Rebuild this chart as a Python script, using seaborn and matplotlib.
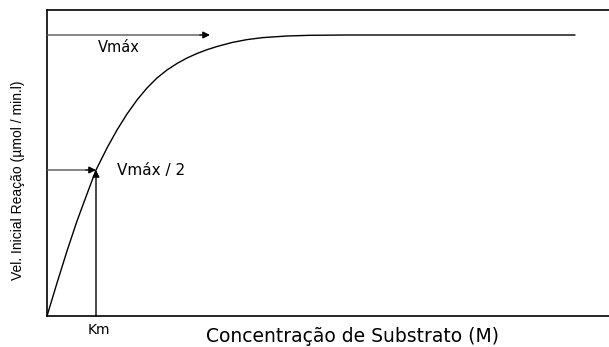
import matplotlib
matplotlib.use("Agg")
import matplotlib.pyplot as plt
import seaborn as sns
import pandas as pd

# curve (substrate concentration vs. initial velocity)
substrate = [0, 10, 20, 30, 40, 49, 60, 70, 80, 90, 100, 110, 120, 130, 140, 150,
             160, 170, 185, 200, 216, 240, 263, 300, 400, 528]
velocity = [0, 33, 65, 95, 122, 146, 168, 186, 202, 216, 228, 238, 246, 252.5, 258, 262.5,
            266.3, 269.5, 273.5, 276.4, 278.4, 280, 280.7, 281, 281, 281]
vmax = 281
half_vmax = 146
km = 49
vmax_arrow_end = 163

sns.set_style("white")
plt.rcParams['font.family'] = ['DejaVu Sans']
plt.rcParams['text.color'] = 'black'
plt.rcParams['xtick.color'] = 'black'

fig = plt.figure(figsize=(6.09, 3.47), dpi=100)
ax = fig.add_axes([47 / 609, 31 / 347, 562 / 609, 306 / 347])

df = pd.DataFrame({"S": substrate, "V": velocity})
sns.lineplot(data=df, x="S", y="V", ax=ax, color="black", linewidth=1.0)

ax.set_xlim(0, 562)
ax.set_ylim(0, 306)

line_gray = dict(arrowstyle="-", color="#555555", lw=1.0, shrinkA=0, shrinkB=0)
head_black = dict(arrowstyle="-|>", color="black", lw=1.0,
                  mutation_scale=10, shrinkA=0, shrinkB=0)
head_len = 10

# Vmax arrow
ax.annotate("", xy=(vmax_arrow_end - head_len, vmax), xytext=(0, vmax), arrowprops=line_gray)
ax.annotate("", xy=(vmax_arrow_end, vmax), xytext=(vmax_arrow_end - head_len, vmax), arrowprops=head_black)
# Vmax/2 arrow
ax.annotate("", xy=(km - head_len, half_vmax), xytext=(0, half_vmax), arrowprops=line_gray)
ax.annotate("", xy=(km, half_vmax), xytext=(km - head_len, half_vmax), arrowprops=head_black)
# Km vertical arrow
ax.annotate("", xy=(km, half_vmax), xytext=(km, 0), arrowprops=head_black)

ax.text(51, 268, "Vmáx", fontsize=10.5, ha="left", va="center")
ax.text(70, 146, "Vmáx / 2", fontsize=11, ha="left", va="center")

ax.spines["right"].set_visible(False)
for side in ["left", "top", "bottom"]:
    ax.spines[side].set_color("black")
    ax.spines[side].set_linewidth(1.2)

ax.set_xticks([km + 3])
ax.set_xticklabels(["Km"], fontsize=10)
ax.tick_params(axis="x", length=0, pad=5)
ax.set_yticks([])
ax.set_xlabel("")
ax.set_ylabel("")

fig.text(352 / 609, 1 - 337 / 347, "Concentração de Substrato (M)",
         fontsize=13.5, ha="center", va="center")
fig.text(18 / 609, 1 - 180 / 347, "Vel. Inicial Reação (µmol / min.l)",
         fontsize=10, rotation=90, ha="center", va="center", family="Liberation Sans")

fig.savefig("out.png", dpi=100)
